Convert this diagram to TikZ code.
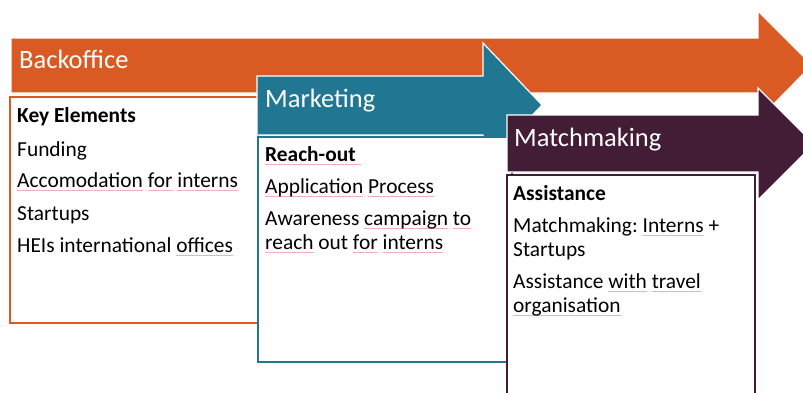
\documentclass[tikz,border=0pt]{standalone}
\usepackage{fontspec}
\setmainfont{Carlito}
\definecolor{orng}{RGB}{218,90,36}
\definecolor{tealc}{RGB}{33,118,146}
\definecolor{purp}{RGB}{67,29,54}
\definecolor{spell}{RGB}{246,172,180}
\newsavebox\sqbox
\newcommand\sq[1]{\leavevmode\sbox\sqbox{#1}\tikz[overlay,baseline=0pt]\draw[spell,line width=1pt] (0pt,-3pt) -- (\wd\sqbox,-3pt);\usebox\sqbox}
\tikzset{
  arrowshape/.style={draw=white,line width=1.2pt},
  boxshape/.style={fill=white,line width=2pt},
  titletext/.style={text=white,font=\fontsize{26.5}{30}\selectfont,inner sep=0pt,anchor=base west},
  bodytext/.style={text=black,font=\fontsize{21.4}{25}\selectfont\frenchspacing,inner sep=0pt,anchor=base west},
  boldtext/.style={bodytext,font=\fontsize{21.4}{25}\selectfont\bfseries},
}
\begin{document}
\begin{tikzpicture}[x=1pt,y=-1pt]
\useasboundingbox (0,0) rectangle (803,392);
\clip (0,0) rectangle (803,392);
\fill[white] (0,0) rectangle (803,392);
% Backoffice
\filldraw[arrowshape,fill=orng] (11,38) -- (758,38) -- (758,11) -- (812,65) -- (758,120) -- (758,93) -- (11,93) -- cycle;
\draw[boxshape,draw=orng] (10,97) rectangle (258,323);
\node[titletext] (t1) at (19,68) {Backoffice};
\node[boldtext] (o1) at (17,122) {Key Elements};
\node[bodytext] (o2) at (17,156) {Funding};
\node[bodytext] (o3) at (17,187) {\sq{Accomodation} \sq{for} \sq{interns}};
\node[bodytext] (o4) at (17,220) {Startups};
\node[bodytext] (o5) at (17,252) {HEIs international \sq{offices}};
% Marketing
\filldraw[arrowshape,fill=tealc] (257,76) -- (483,76) -- (483,43) -- (542,105) -- (483,167) -- (483,135) -- (257,135) -- cycle;
\draw[boxshape,draw=tealc] (258,137) rectangle (512,362);
\node[titletext] (t2) at (265,107) {Marketing};
\node[boldtext] (m1) at (265,161) {\sq{Reach-out~}};
\node[bodytext] (m2) at (265,193) {\sq{Application} \sq{Process}};
\node[bodytext] (m3) at (265,225) {Awareness \sq{campaign} \sq{to}};
\node[bodytext] (m4) at (265,249) {\sq{reach} out \sq{for} \sq{interns}};
% Matchmaking
\filldraw[arrowshape,fill=purp] (507,115) -- (758,115) -- (758,88) -- (814,144) -- (758,200) -- (758,172) -- (507,172) -- cycle;
\draw[boxshape,draw=purp,line width=2.5pt] (507,175) rectangle (755,400);
\node[titletext] (t3) at (514,146) {Matchmaking};
\node[boldtext] (p1) at (513,200) {Assistance};
\node[bodytext] (p2) at (513,232) {Matchmaking: \sq{Interns} +};
\node[bodytext] (p3) at (513,256) {Startups};
\node[bodytext] (p4) at (513,288) {Assistance \sq{with} \sq{travel}};
\node[bodytext] (p5) at (513,312) {\sq{organisation}};
\end{tikzpicture}
\end{document}
